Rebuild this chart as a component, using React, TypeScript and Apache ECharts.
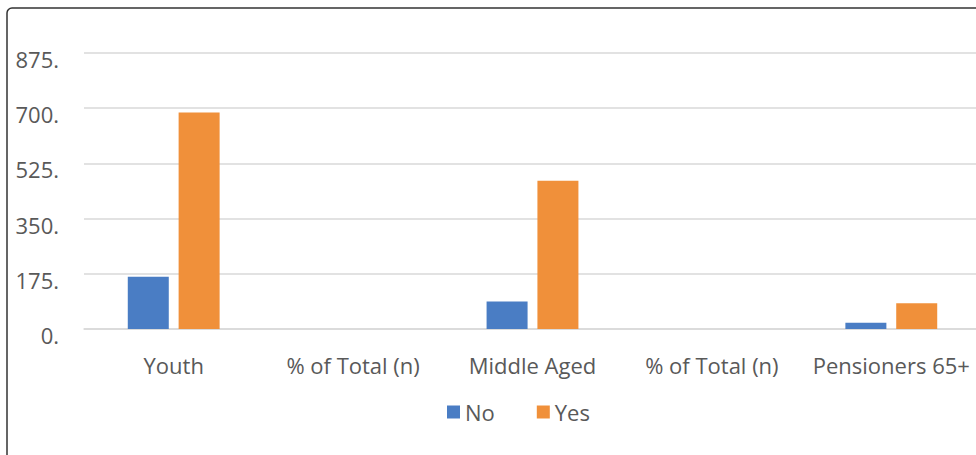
import React, { useEffect, useRef } from "react";
import * as echarts from "echarts";

const categories = ["Youth", "% of Total (n)", "Middle Aged", "% of Total (n)", "Pensioners 65+"];
const noValues = [166, 0, 87, 0, 20];
const yesValues = [686, 0, 470, 0, 82];
const seriesNames = ["No", "Yes"];
const yTicks = { min: 0, max: 875, interval: 175 };

const FONT = "'Open Sans', sans-serif";
const TEXT = "#595959";

export default function App() {
  const ref = useRef<HTMLDivElement>(null);
  useEffect(() => {
    if (!ref.current) return;
    const chart = echarts.init(ref.current, null, { renderer: "svg" });
    chart.setOption({
      animation: false,
      backgroundColor: "#ffffff",
      textStyle: { fontFamily: FONT },
      graphic: [
        {
          type: "rect",
          silent: true,
          z: -1,
          shape: { x: 7, y: 8, width: 1100, height: 500, r: 5 },
          style: { fill: "none", stroke: "#333333", lineWidth: 1.5 },
        },
      ],
      grid: { left: 84, right: 9, top: 53, bottom: 126, containLabel: false },
      legend: {
        data: seriesNames,
        left: 442,
        top: 396,
        itemWidth: 13,
        itemHeight: 13,
        itemGap: 42,
        icon: "rect",
        textStyle: { color: TEXT, fontSize: 22, fontFamily: FONT, lineHeight: 22 },
      },
      xAxis: {
        type: "category",
        data: categories,
        axisLine: { show: true, lineStyle: { color: "#d9d9d9", width: 1.5 } },
        axisTick: { show: false },
        axisLabel: { color: TEXT, fontSize: 22, fontFamily: FONT, margin: 25, interval: 0 },
      },
      yAxis: {
        type: "value",
        min: yTicks.min,
        max: yTicks.max,
        interval: yTicks.interval,
        axisLine: { show: false },
        axisTick: { show: false },
        splitLine: { lineStyle: { color: "#d9d9d9", width: 1.5 } },
        axisLabel: {
          color: TEXT,
          fontSize: 22,
          fontFamily: FONT,
          margin: 25,
          verticalAlign: "top",
          lineHeight: 12,
          formatter: (v: number) => v + ".",
        },
      },
      series: [
        {
          name: seriesNames[0],
          type: "bar",
          data: noValues,
          barWidth: 41,
          barGap: "24%",
          itemStyle: { color: "#4A7DC4" },
        },
        {
          name: seriesNames[1],
          type: "bar",
          data: yesValues,
          barWidth: 41,
          barGap: "24%",
          itemStyle: { color: "#F0903A" },
        },
      ],
    });
    return () => chart.dispose();
  }, []);
  return (
    <div
      style={{ position: "absolute", left: 0, top: 0, width: 976, height: 455, overflow: "hidden" }}
    >
      <div ref={ref} style={{ width: 990, height: 455 }} />
    </div>
  );
}
